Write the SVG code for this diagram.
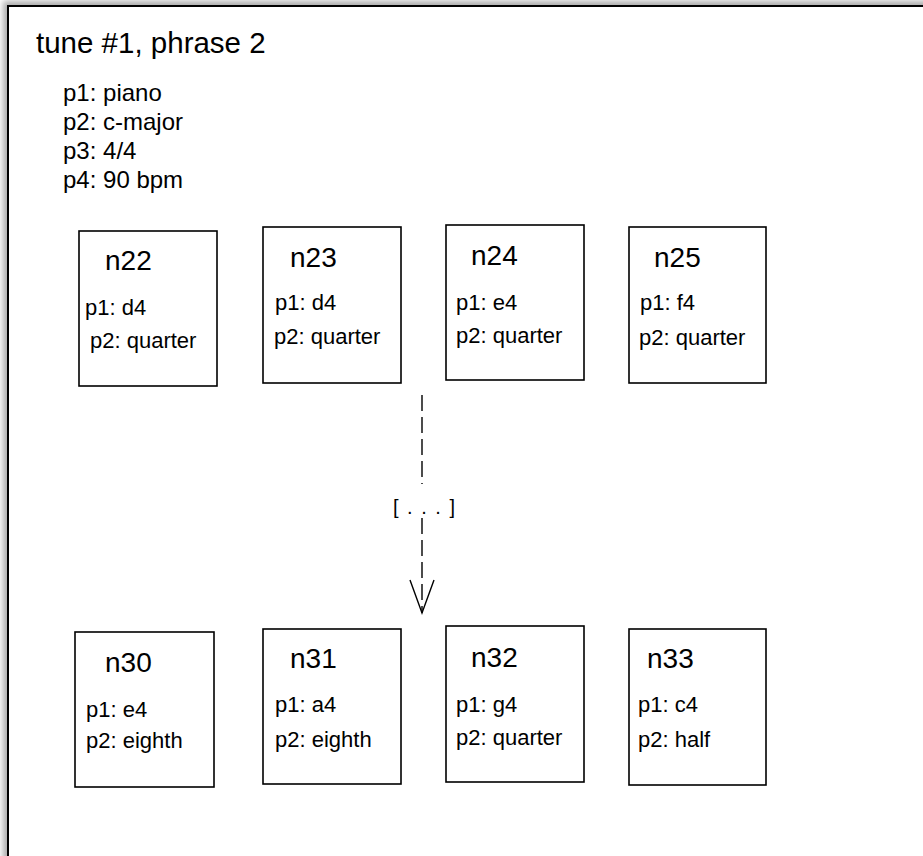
<svg xmlns="http://www.w3.org/2000/svg" width="923" height="856" viewBox="0 0 923 856">
  <defs>
    <style>
      text { font-family: "Liberation Sans", Arial, Helvetica, sans-serif; fill: #000; }
      .title { font-size: 29.5px; }
      .prop { font-size: 24px; }
      .head { font-size: 28px; }
      .np { font-size: 22px; }
      .box { fill: #fff; stroke: #000; stroke-width: 1.6; }
      .link { fill: none; stroke: #000; stroke-width: 1.4; }
      .dash { stroke-dasharray: 16 6; }
      .ellipsis { font-size: 20px; letter-spacing: 1.5px; }
    </style>
    <filter id="frameShadow" x="-5%" y="-5%" width="110%" height="110%">
      <feGaussianBlur stdDeviation="3"/>
    </filter>
    <!-- open V arrowhead; tip sits on the end of the line -->
    <marker id="openArrow" markerWidth="40" markerHeight="30" refX="34" refY="13" orient="auto" markerUnits="userSpaceOnUse">
      <path d="M1,1 L34,13 L1,25" fill="none" stroke="#000" stroke-width="1.4"/>
    </marker>
  </defs>

  <rect width="923" height="856" fill="#fff"/>

  <!-- page frame with soft shadow along its top and left edges -->
  <g id="frame">
    <rect x="3" y="1" width="940" height="880" fill="#aaa" filter="url(#frameShadow)"/>
    <rect x="8" y="6" width="940" height="880" fill="#fff" stroke="#000" stroke-width="2"/>
  </g>

  <!-- phrase header -->
  <g id="phrase">
    <text class="title" x="36" y="53">tune #1, phrase 2</text>
    <text class="prop" x="63" y="101">p1: piano</text>
    <text class="prop" x="63" y="130">p2: c-major</text>
    <text class="prop" x="63" y="159">p3: 4/4</text>
    <text class="prop" x="63" y="188">p4: 90 bpm</text>
  </g>

  <!-- first row of notes -->
  <g id="n22">
    <rect class="box" x="79" y="231" width="138" height="155"/>
    <text class="head" x="105" y="270">n22</text>
    <text class="np" x="85" y="315">p1: d4</text>
    <text class="np" x="90" y="348">p2: quarter</text>
  </g>
  <g id="n23">
    <rect class="box" x="263" y="227" width="138" height="156"/>
    <text class="head" x="290" y="267">n23</text>
    <text class="np" x="275" y="310">p1: d4</text>
    <text class="np" x="274" y="344">p2: quarter</text>
  </g>
  <g id="n24">
    <rect class="box" x="446" y="225" width="138" height="155"/>
    <text class="head" x="471" y="265">n24</text>
    <text class="np" x="456" y="310">p1: e4</text>
    <text class="np" x="456" y="343">p2: quarter</text>
  </g>
  <g id="n25">
    <rect class="box" x="629" y="227" width="137" height="156"/>
    <text class="head" x="654" y="267">n25</text>
    <text class="np" x="640" y="310">p1: f4</text>
    <text class="np" x="639" y="345">p2: quarter</text>
  </g>

  <!-- second row of notes -->
  <g id="n30">
    <rect class="box" x="75" y="632" width="139" height="155"/>
    <text class="head" x="105" y="672">n30</text>
    <text class="np" x="86" y="717">p1: e4</text>
    <text class="np" x="86" y="748">p2: eighth</text>
  </g>
  <g id="n31">
    <rect class="box" x="263" y="629" width="138" height="155"/>
    <text class="head" x="290" y="668">n31</text>
    <text class="np" x="275" y="712">p1: a4</text>
    <text class="np" x="275" y="747">p2: eighth</text>
  </g>
  <g id="n32">
    <rect class="box" x="446" y="626" width="138" height="156"/>
    <text class="head" x="471" y="667">n32</text>
    <text class="np" x="456" y="712">p1: g4</text>
    <text class="np" x="456" y="745">p2: quarter</text>
  </g>
  <g id="n33">
    <rect class="box" x="629" y="629" width="137" height="156"/>
    <text class="head" x="647" y="668">n33</text>
    <text class="np" x="638" y="712">p1: c4</text>
    <text class="np" x="638" y="747">p2: half</text>
  </g>

  <!-- elided sequence between the two rows -->
  <g id="connectors">
    <line class="link dash" x1="422" y1="395" x2="422" y2="484"/>
    <line class="link dash" x1="422" y1="518" x2="422" y2="613" marker-end="url(#openArrow)"/>
    <text class="ellipsis" x="393" y="514">[ . . . ]</text>
  </g>
</svg>
